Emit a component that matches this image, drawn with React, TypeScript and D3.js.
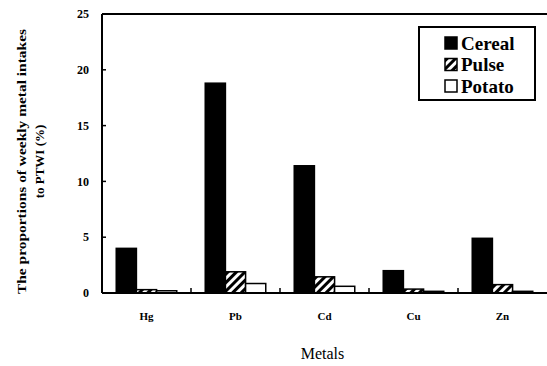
import React from 'react';
import * as d3 from 'd3';

const metals = ['Hg', 'Pb', 'Cd', 'Cu', 'Zn'];
const seriesNames = ['Cereal', 'Pulse', 'Potato'];
const cereal = [4.0, 18.8, 11.4, 2.0, 4.9];
const pulse = [0.3, 1.9, 1.45, 0.35, 0.75];
const potato = [0.2, 0.85, 0.6, 0.15, 0.15];
const yTicks = [0, 5, 10, 15, 20, 25];

const W = 547, H = 366;
const margin = {top: 14, right: 0, bottom: 73, left: 102};
const font = "'Liberation Serif', 'Times New Roman', serif";

const fills = ['#000', 'url(#hatch)', '#fff'];

export default function App() {
    const innerW = W - margin.left - margin.right;
    const innerH = H - margin.top - margin.bottom;
    const values = [cereal, pulse, potato];

    const x = d3.scaleBand().domain(metals).range([0, innerW]).paddingInner(0.32).paddingOuter(0.16);
    const xInner = d3.scaleBand().domain(seriesNames).range([0, x.bandwidth()]);
    const y = d3.scaleLinear().domain([0, 25]).range([innerH, 0]);
    const step = x.step();

    const bold = {fontFamily: font, fontWeight: 700};
    const midY = margin.top + innerH / 2 + 8;

    return (
        <svg width={W} height={H} style={{position: 'absolute', left: 0, top: 0, fontFamily: font}}>
            <defs>
                <pattern id="hatch" patternUnits="userSpaceOnUse" width="6" height="6" patternTransform="rotate(45)">
                    <rect width="6" height="6" fill="#fff" />
                    <rect width="3" height="6" fill="#000" />
                </pattern>
            </defs>
            <rect width={W} height={H} fill="#fff" />
            <g transform={`translate(${margin.left},${margin.top})`}>
                {seriesNames.map((s, si) => (
                    <g key={s}>
                        {metals.map((m, i) => (
                            <rect key={m}
                                x={(x(m) as number) + (xInner(s) as number)}
                                y={y(values[si][i])}
                                width={xInner.bandwidth()}
                                height={innerH - y(values[si][i])}
                                fill={fills[si]}
                                stroke="#000"
                                strokeWidth={1.5} />
                        ))}
                    </g>
                ))}
                {/* frame */}
                <line x1={0} x2={innerW} y1={0} y2={0} stroke="#000" strokeWidth={2} />
                <line x1={0} x2={0} y1={0} y2={innerH} stroke="#000" strokeWidth={2} />
                <line x1={0} x2={innerW} y1={innerH} y2={innerH} stroke="#000" strokeWidth={2} />
                {yTicks.map(t => (
                    <g key={t} transform={`translate(0,${y(t)})`}>
                        <line x1={0} x2={4} stroke="#000" strokeWidth={1.5} />
                        <text x={-13} dy="0.35em" textAnchor="end" style={bold} fontSize={12}>{t}</text>
                    </g>
                ))}
                {metals.slice(1).map(m => (
                    <line key={m} x1={(x(m) as number) - step * 0.16} x2={(x(m) as number) - step * 0.16}
                        y1={innerH} y2={innerH - 5} stroke="#000" strokeWidth={1.5} />
                ))}
                {metals.map(m => (
                    <text key={m} x={(x(m) as number) + x.bandwidth() / 2} y={innerH + 27} textAnchor="middle"
                        style={bold} fontSize={11}>{m}</text>
                ))}
                <text x={innerW / 2 - 2} y={innerH + 66} textAnchor="middle" style={{fontFamily: font}} fontSize={16}>Metals</text>
                {/* legend */}
                <g transform={`translate(${419 - margin.left},${27 - margin.top})`}>
                    <rect width={116} height={73} fill="#fff" stroke="#000" strokeWidth={2} />
                    {seriesNames.map((s, i) => (
                        <g key={s} transform={`translate(26,${10 + i * 21.5})`}>
                            <rect width={12} height={12} fill={fills[i]} stroke="#000" strokeWidth={1.5} />
                            <text x={16} y={6} dy="0.35em" style={bold} fontSize={19}>{s}</text>
                        </g>
                    ))}
                </g>
            </g>
            <text transform={`translate(26,${midY}) rotate(-90)`} textAnchor="middle" style={bold} fontSize={13}
                textLength={265} lengthAdjust="spacingAndGlyphs">The proportions of weekly metal intakes</text>
            <text transform={`translate(44,${midY}) rotate(-90)`} textAnchor="middle" style={bold} fontSize={13}>to PTWI (%)</text>
        </svg>
    );
}
